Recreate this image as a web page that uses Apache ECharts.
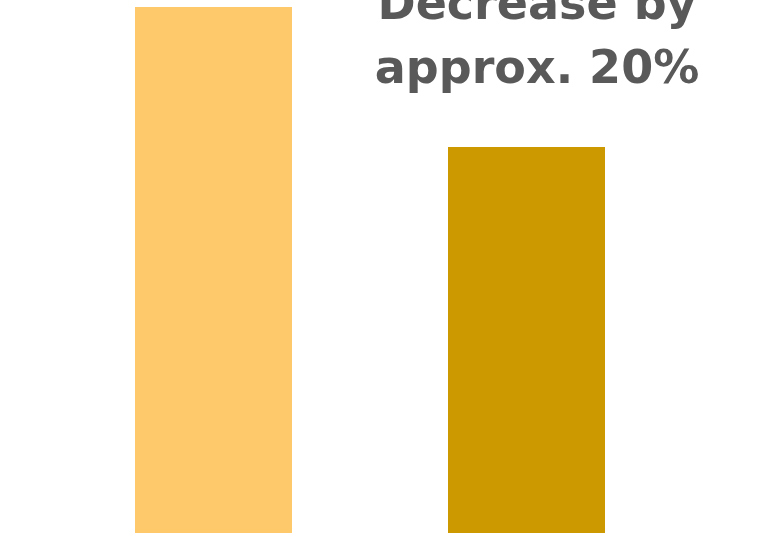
<!DOCTYPE html>
<html>
<head>
<meta charset="utf-8">
<script src="https://cdn.jsdelivr.net/npm/echarts@6/dist/echarts.min.js"></script>
<style>
  html, body { margin: 0; padding: 0; background: #fff; }
  #chart { width: 778px; height: 533px; }
</style>
</head>
<body>
<div id="chart"></div>
<script>
const categories = ['Before', 'After']
const values = [100, 73.4]
const barColors = ['#FDC96A', '#CC9900']
const noteText = 'Decrease by\napprox. 20%'

const chart = echarts.init(document.getElementById('chart'))
const option = {
  animation: false,
  grid: { left: 57, right: 95, top: 7, bottom: 0 },
  xAxis: {
    type: 'category',
    data: categories,
    show: false
  },
  yAxis: {
    type: 'value',
    min: 0,
    max: 100,
    show: false
  },
  series: [{
    type: 'bar',
    barWidth: 157,
    data: values.map((v, i) => ({ value: v, itemStyle: { color: barColors[i] } }))
  }],
  graphic: [{
    type: 'text',
    x: 537,
    y: -25,
    style: {
      text: noteText,
      align: 'center',
      verticalAlign: 'top',
      font: 'bold 46px "DejaVu Sans"',
      lineHeight: 64,
      fill: '#595959'
    }
  }]
}
chart.setOption(option)
</script>
</body>
</html>
